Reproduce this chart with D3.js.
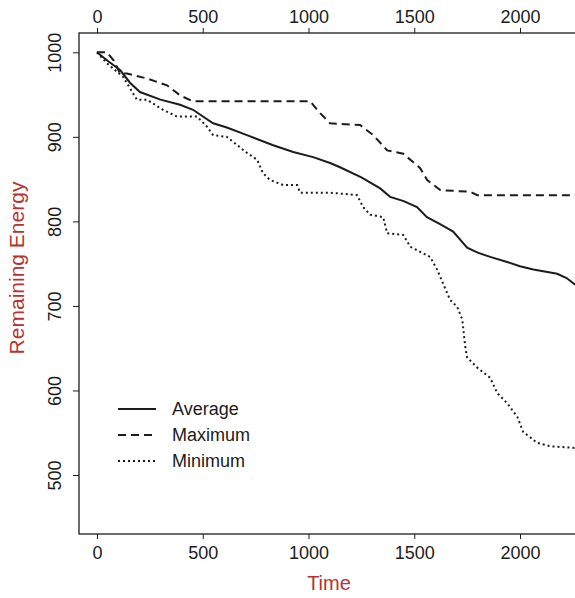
<!DOCTYPE html>
<html>
<head>
<meta charset="utf-8">
<script src="https://cdn.jsdelivr.net/npm/d3@7"></script>
<style>
  body { margin: 0; background: #fff; }
  text { font-family: "Liberation Sans", Arial, sans-serif; }
</style>
</head>
<body>
<svg id="chart" width="575" height="598"></svg>
<script>
// 値 (読み取り)
var avgTime = [0, 50, 109, 156, 203, 300, 393, 454, 549, 614, 709, 833, 928, 1022, 1102, 1149, 1250, 1339, 1386, 1450, 1513, 1560, 1620, 1684, 1750, 1800, 1859, 1939, 2000, 2063, 2176, 2220, 2261];
var avgEnergy = [1000, 990, 979, 964, 953, 944, 938, 932, 916, 911, 902, 890, 882, 876, 869, 864, 852, 839, 829, 824, 817, 805, 797, 788, 769, 763, 758, 752, 747, 743, 738, 733, 725];

var maxTime = [0, 47, 80, 109, 142, 236, 331, 393, 454, 1008, 1055, 1102, 1244, 1306, 1372, 1448, 1528, 1561, 1623, 1764, 1798, 2261];
var maxEnergy = [1000, 1000, 990, 975, 975, 969, 961, 949, 942, 942, 928, 916, 914, 902, 884, 880, 863, 849, 837, 835, 831, 831];

var minTime = [0, 47, 123, 189, 236, 312, 378, 473, 520, 549, 614, 709, 757, 785, 818, 880, 946, 960, 1102, 1230, 1258, 1291, 1353, 1372, 1448, 1481, 1575, 1608, 1656, 1670, 1703, 1727, 1741, 1750, 1798, 1859, 1892, 1939, 1987, 2015, 2081, 2143, 2261];
var minEnergy = [1000, 987, 971, 944, 944, 932, 924, 924, 912, 902, 900, 881, 873, 857, 849, 843, 843, 834, 834, 831, 817, 808, 805, 786, 784, 770, 758, 743, 715, 707, 699, 684, 652, 639, 627, 615, 597, 585, 569, 551, 538, 534, 532];

var seriesNames = ["Average", "Maximum", "Minimum"];
var xTicks = [0, 500, 1000, 1500, 2000];
var yTicks = [500, 600, 700, 800, 900, 1000];

//////////////////////////////////////////////////
var svg = d3.select("#chart");
var ink = "#1c1c1c";
var red = "#b83232";
var box = { left: 79, top: 33, right: 600, bottom: 534 };

var x = d3.scaleLinear().domain([0, 2000]).range([97, 520]);
var y = d3.scaleLinear().domain([500, 1000]).range([475, 52.3]);

// 枠
svg.append("rect")
  .attr("x", box.left).attr("y", box.top)
  .attr("width", box.right - box.left).attr("height", box.bottom - box.top)
  .attr("fill", "none").attr("stroke", ink).attr("stroke-width", 1.3);

// axes
var fmt = d3.format("d");
var axBottom = svg.append("g").attr("transform", "translate(0," + box.bottom + ")")
  .call(d3.axisBottom(x).tickValues(xTicks).tickFormat(fmt).tickSize(5).tickPadding(7));
var axTop = svg.append("g").attr("transform", "translate(0," + box.top + ")")
  .call(d3.axisTop(x).tickValues(xTicks).tickFormat(fmt).tickSize(5).tickPadding(5));
var axLeft = svg.append("g").attr("transform", "translate(" + box.left + ",0)")
  .call(d3.axisLeft(y).tickValues(yTicks).tickFormat(fmt).tickSize(6).tickPadding(8));

[axBottom, axTop, axLeft].forEach(function(g){
  g.select(".domain").remove();
  g.selectAll(".tick line").attr("stroke", ink).attr("stroke-width", 1);
  g.selectAll(".tick text").attr("fill", ink)
    .style("font-size", "18px").style("font-family", "Liberation Sans, Arial, sans-serif");
});

// 縦書きの目盛り
axLeft.selectAll(".tick text")
  .attr("x", null).attr("dy", "0.35em")
  .attr("text-anchor", "middle")
  .attr("transform", "translate(-24,0) rotate(-90)")
  .attr("y", 0);

// labels
svg.append("text").attr("x", 329).attr("y", 590)
  .attr("text-anchor", "middle").attr("fill", red)
  .style("font-size", "20px").text("Time");
svg.append("text")
  .attr("transform", "translate(24,268) rotate(-90)")
  .attr("text-anchor", "middle").attr("fill", red)
  .style("font-size", "21px").text("Remaining Energy");

// lines
svg.append("clipPath").attr("id", "plotclip")
  .append("rect").attr("x", box.left).attr("y", box.top)
  .attr("width", box.right - box.left).attr("height", box.bottom - box.top);

var styles = [
  { dash: null },
  { dash: "8,5" },
  { dash: "2,3" }
];
var series = [
  d3.zip(avgTime, avgEnergy),
  d3.zip(maxTime, maxEnergy),
  d3.zip(minTime, minEnergy)
];

var line = d3.line()
  .x(function(d){ return x(d[0]); })
  .y(function(d){ return y(d[1]); });

var plot = svg.append("g").attr("clip-path", "url(#plotclip)");
series.forEach(function(s, i){
  plot.append("path").datum(s)
    .attr("d", line)
    .attr("fill", "none")
    .attr("stroke", ink)
    .attr("stroke-width", 2)
    .attr("stroke-dasharray", styles[i].dash);
});

// 凡例
var legend = svg.append("g");
seriesNames.forEach(function(name, i){
  var ly = 409 + i * 26;
  legend.append("line")
    .attr("x1", 118).attr("x2", 156).attr("y1", ly).attr("y2", ly)
    .attr("stroke", ink).attr("stroke-width", 2)
    .attr("stroke-dasharray", styles[i].dash);
  legend.append("text")
    .attr("x", 172).attr("y", ly).attr("dy", "0.35em")
    .attr("fill", ink).style("font-size", "18px").text(name);
});
</script>
</body>
</html>
